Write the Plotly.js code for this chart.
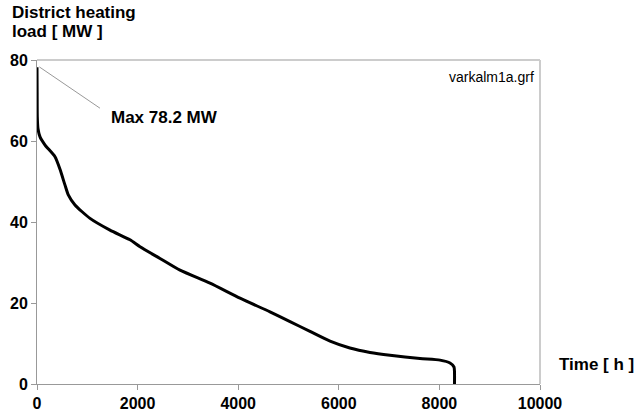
<!DOCTYPE html>
<html>
<head>
<meta charset="utf-8">
<script src="https://cdn.plot.ly/plotly-3.0.1.min.js"></script>
<style>html,body{margin:0;padding:0;background:#fff;}#chart{width:634px;height:416px;}</style>
</head>
<body>
<div id="chart"></div>
<script>
var hours = [0, 3, 6, 20, 60, 160, 358, 457, 557, 622, 755, 1054, 1451, 1849, 2048, 2445, 2843, 3439, 4036, 4632, 5030, 5427, 5826, 6220, 6620, 7018, 7614, 8012, 8211, 8290, 8300, 8300];
var loadMW = [78.2, 72, 66, 63, 61, 59, 56.1, 53, 49.1, 46.7, 44.2, 40.9, 38.0, 35.6, 33.9, 31.0, 28.1, 24.9, 21.2, 17.8, 15.4, 13.0, 10.6, 8.9, 7.8, 7.1, 6.3, 5.9, 5.2, 4.2, 3.0, 0];
var xTicks = [0, 2000, 4000, 6000, 8000, 10000];
var yTicks = [0, 20, 40, 60, 80];

var trace = {
  x: hours, y: loadMW, type: 'scatter', mode: 'lines',
  line: {color: '#000', width: 3, shape: 'spline', smoothing: 0.6},
  hoverinfo: 'skip'
};

var fam = 'Liberation Sans, Arial, sans-serif';
var layout = {
  width: 634, height: 416,
  margin: {l: 37, r: 94, t: 60, b: 32},
  paper_bgcolor: '#fff', plot_bgcolor: '#fff',
  showlegend: false,
  xaxis: {
    range: [0, 10000], tickvals: xTicks, ticktext: xTicks.map(String),
    showgrid: false, zeroline: false, showline: true, linecolor: '#999', linewidth: 1,
    ticks: 'outside', ticklen: 5, tickcolor: '#999',
    tickfont: {family: fam, size: 16, color: '#000', weight: 'bold'}
  },
  yaxis: {
    range: [0, 80], tickvals: yTicks, ticktext: yTicks.map(String),
    showgrid: false, zeroline: false, showline: true, linecolor: '#999', linewidth: 1,
    ticks: 'outside', ticklen: 5, tickcolor: '#999',
    tickfont: {family: fam, size: 16, color: '#000', weight: 'bold'}
  },
  shapes: [
    {type: 'line', xref: 'paper', yref: 'paper', x0: 0, x1: 1, y0: 1, y1: 1, line: {color: '#999', width: 1}},
    {type: 'line', xref: 'paper', yref: 'paper', x0: 1, x1: 1, y0: 0, y1: 1, line: {color: '#ccc', width: 2}},
    {type: 'line', xref: 'x', yref: 'y', x0: 46, y0: 78.3, x1: 1252, y1: 68.1, line: {color: '#999', width: 1}}
  ],
  annotations: [
    {xref: 'paper', yref: 'paper', x: -27/503, y: 1 + 47.5/324, xanchor: 'left', yanchor: 'middle',
     text: 'District heating', showarrow: false,
     font: {family: fam, size: 17, color: '#000', weight: 'bold'}},
    {xref: 'paper', yref: 'paper', x: -27/503, y: 1 + 28.7/324, xanchor: 'left', yanchor: 'middle',
     text: 'load [ MW ]', showarrow: false,
     font: {family: fam, size: 17, color: '#000', weight: 'bold'}},
    {xref: 'paper', yref: 'y', x: 1 + 17/503, y: 4.7, xanchor: 'left', yanchor: 'middle',
     text: 'Time [ h ]', showarrow: false,
     font: {family: fam, size: 17, color: '#000', weight: 'bold'}},
    {xref: 'x', yref: 'y', x: 1431, y: 65.7, xanchor: 'left', yanchor: 'middle',
     text: 'Max 78.2 MW', showarrow: false,
     font: {family: fam, size: 17, color: '#000', weight: 'bold'}},
    {xref: 'paper', yref: 'y', x: 1 - 4/503, y: 75.9, xanchor: 'right', yanchor: 'middle',
     text: 'varkalm1a.grf', showarrow: false,
     font: {family: fam, size: 14, color: '#000'}}
  ]
};

Plotly.newPlot('chart', [trace], layout, {displayModeBar: false, staticPlot: true});
</script>
</body>
</html>
